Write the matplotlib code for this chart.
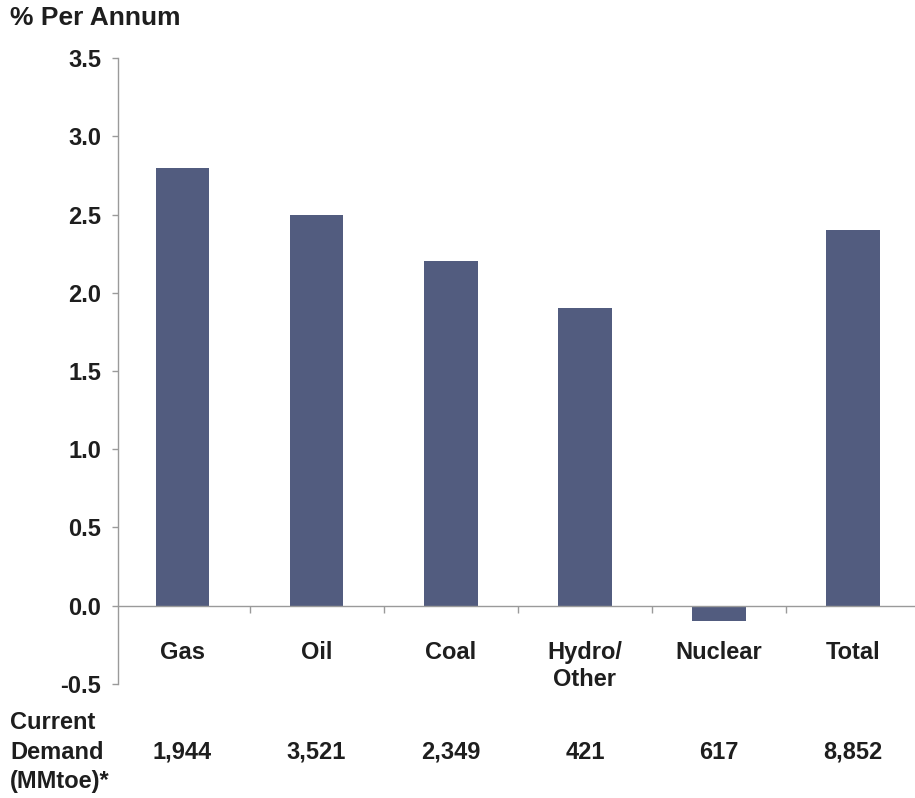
import matplotlib
matplotlib.use('Agg')
import matplotlib.pyplot as plt
import matplotlib.transforms as mtransforms

plt.rcParams['font.family'] = ['Liberation Sans', 'DejaVu Sans']
plt.rcParams['font.weight'] = 'bold'

### data
fuels = ['Gas', 'Oil', 'Coal', 'Hydro/\nOther', 'Nuclear', 'Total']
growth = [2.8, 2.5, 2.2, 1.9, -0.1, 2.4]
demand = ['1,944', '3,521', '2,349', '421', '617', '8,852']
yticks = [-0.5, 0.0, 0.5, 1.0, 1.5, 2.0, 2.5, 3.0, 3.5]

bar_color = '#525c7f'
text_color = '#1e1e1e'
axis_color = '#9a9a9a'
fs = 17

fig = plt.figure(figsize=(9.15, 7.98), dpi=100)
ax = fig.add_axes([0.129, 0.1429, 0.871, 0.7844])

x = list(range(len(fuels)))
ax.bar(x, growth, width=0.4, color=bar_color, zorder=2)

ax.set_xlim(-0.48, 5.46)
ax.set_ylim(-0.5, 3.5)

for s in ['top', 'right']:
    ax.spines[s].set_visible(False)
ax.spines['left'].set_color(axis_color)
ax.spines['left'].set_linewidth(1)
ax.spines['bottom'].set_position(('data', 0))
ax.spines['bottom'].set_color(axis_color)
ax.spines['bottom'].set_linewidth(1)
ax.spines['bottom'].set_zorder(3)

ax.set_yticks(yticks)
ax.set_yticklabels(['%.1f' % v for v in yticks], fontsize=fs, color=text_color, fontweight='bold')
ax.tick_params(axis='y', length=4, width=1, color=axis_color, pad=8)

# small ticks on the zero line between the categories
ax.set_xticks([i + 0.5 for i in x[:-1]])
ax.set_xticklabels([])
ax.tick_params(axis='x', length=5, width=1, color=axis_color, direction='out')

for i, name in zip(x, fuels):
    ax.text(i, -0.225, name, ha='center', va='top', fontsize=fs,
            color=text_color, fontweight='bold', linespacing=1.22)

trans = mtransforms.blended_transform_factory(ax.transData, fig.transFigure)
for i, d in zip(x, demand):
    ax.text(i, 0.0576, d, ha='center', va='center', fontsize=fs,
            color=text_color, fontweight='bold', transform=trans)

fig.text(0.011, 0.0576, 'Current\nDemand\n(MMtoe)*', ha='left', va='center',
         fontsize=fs, color=text_color, fontweight='bold', linespacing=1.35)
fig.text(0.011, 0.977, '% Per Annum', ha='left', va='center',
         fontsize=19, color=text_color, fontweight='bold')

fig.savefig('out.png', dpi=100, facecolor='white')
